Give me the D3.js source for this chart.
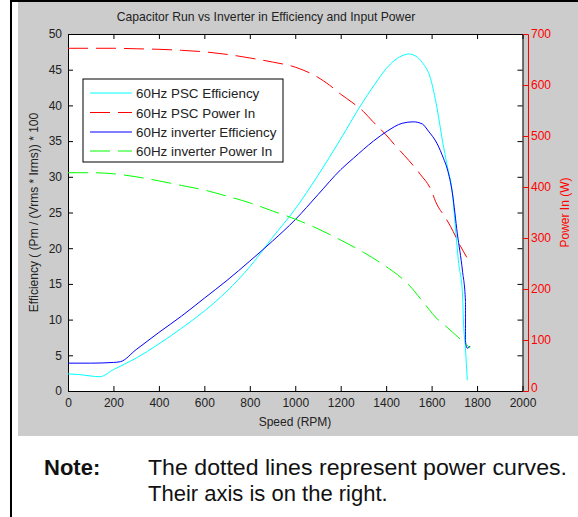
<!DOCTYPE html>
<html><head><meta charset="utf-8">
<script src="https://cdn.jsdelivr.net/npm/d3@7/dist/d3.min.js"></script>
<style>body{margin:0;background:#fff;}svg{display:block;font-family:"Liberation Sans",Arial,sans-serif;}</style>
</head><body>
<script>
// ---- data ----
const title = "Capacitor Run vs Inverter in Efficiency and Input Power";
const xTicks = [0,200,400,600,800,1000,1200,1400,1600,1800,2000];
const yLeftTicks = [0,5,10,15,20,25,30,35,40,45,50];
const yRightTicks = [0,100,200,300,400,500,600,700];
const seriesNames = ["60Hz PSC Efficiency","60Hz PSC Power In","60Hz inverter Efficiency","60Hz inverter Power In"];

const pscEffRpm = [0,50,100,140,200,300,400,500,600,700,800,900,1000,1100,1200,1286,1344,1419,1460,1500,1530,1559,1595,1624,1648,1669,1692,1705,1718,1736,1740,1749,1757];
const pscEffVal = [2.4,2.3,2.1,2.0,3.0,4.6,6.6,8.8,11.2,14.0,17.4,21.5,25.5,30.2,35.3,39.9,42.7,45.8,46.8,47.2,46.9,46.0,43.8,39.6,35.0,31.5,27.6,22.8,18.2,13.6,9.8,6.0,1.5];

const pscPowRpm = [0,100,200,300,400,500,600,700,800,900,1000,1100,1150,1200,1250,1300,1340,1400,1435,1500,1550,1600,1617,1665,1683,1727,1755];
const pscPowVal = [672,672,672,671,670,668,665,660,653,645,635,615,600,582,566,548,529,502,484,452,425,392,372,337,323,284,262];

const invEffRpm = [0,100,200,230,300,400,500,600,700,800,900,1000,1100,1200,1256,1344,1405,1471,1520,1559,1586,1625,1652,1669,1692,1713,1736,1749,1749,1757,1770];
const invEffVal = [3.9,3.9,4.0,4.1,5.8,8.2,10.5,13.0,15.5,18.2,21.0,24.0,27.5,31.0,32.6,35.0,36.4,37.5,37.7,37.4,36.4,34.6,32.6,31.1,27.6,22.1,16.8,12.6,7.0,6.0,6.3];

const invPowRpm = [0,100,200,300,400,500,600,700,800,900,1000,1100,1200,1300,1400,1450,1500,1560,1630,1660,1730,1770];
const invPowVal = [428,428,426,420,412,403,394,382,369,353,337,318,296,272,244,228,208,176,139,128,100,84];

// ---- layout ----
const W = 578, H = 517;
const svg = d3.select("body").append("svg").attr("width", W).attr("height", H);

svg.append("rect").attr("x",11).attr("y",1).attr("width",570).attr("height",520)
  .attr("fill","#fff").attr("stroke","#000").attr("stroke-width",2);
svg.append("rect").attr("x",18).attr("y",2).attr("width",560).attr("height",434).attr("fill","#cccccc");

const L = 68, R = 522.5, T = 34, B = 391, RA = 528;
const x = d3.scaleLinear().domain([0,2000]).range([L,R]);
const yL = d3.scaleLinear().domain([0,50]).range([B,T]);
const yR = d3.scaleLinear().domain([0,700]).range([B,T]);

svg.append("rect").attr("x",L).attr("y",T).attr("width",R-L).attr("height",B-T).attr("fill","#fff");

// axes
const fontSize = 12;
const fmt = d3.format("d");
const axB = svg.append("g").attr("transform",`translate(0,${B})`)
  .call(d3.axisBottom(x).tickValues(xTicks).tickFormat(fmt).tickSizeInner(-5).tickSizeOuter(0).tickPadding(7));
const axT = svg.append("g").attr("transform",`translate(0,${T})`)
  .call(d3.axisTop(x).tickValues(xTicks).tickSizeInner(-5).tickSizeOuter(0).tickFormat(""));
const axL = svg.append("g").attr("transform",`translate(${L},0)`)
  .call(d3.axisLeft(yL).tickValues(yLeftTicks).tickFormat(fmt).tickSizeInner(-5).tickSizeOuter(0).tickPadding(6));
const axR = svg.append("g").attr("transform",`translate(${R},0)`)
  .call(d3.axisRight(yL).tickValues(yLeftTicks).tickSizeInner(-5).tickSizeOuter(0).tickFormat(""));
const axRR = svg.append("g").attr("transform",`translate(${RA},0)`)
  .call(d3.axisRight(yR).tickValues(yRightTicks).tickFormat(fmt).tickSizeInner(-5).tickSizeOuter(-4).tickPadding(3));

[axB,axT,axL,axR].forEach(g=>{
  g.selectAll("path").attr("stroke","#000").attr("stroke-width",1);
  g.selectAll("line").attr("stroke","#000");
  g.selectAll("text").attr("fill","#222").style("font-size",fontSize+"px").style("font-family","Liberation Sans, Arial, sans-serif");
});
axRR.selectAll("path").attr("stroke","#ff0000");
axRR.selectAll("line").attr("stroke","#ff0000");
axRR.selectAll("text").attr("fill","#ff0000").style("font-size",fontSize+"px").style("font-family","Liberation Sans, Arial, sans-serif");
// keep the red "0" clear of the "2000" label just below it
axRR.selectAll(".tick").filter(d=>d===0).select("text").attr("dy","0.05em");

// lines
const clip = svg.append("g");
function drawLine(rpm, vals, yScale, color, dash){
  const pts = rpm.map((r,i)=>[r, vals[i]]);
  const line = d3.line().x(d=>x(d[0])).y(d=>yScale(d[1])).curve(d3.curveMonotoneX);
  clip.append("path").attr("d", line(pts)).attr("fill","none").attr("stroke",color)
    .attr("stroke-width",1).attr("stroke-dasharray", dash || null);
}
drawLine(pscEffRpm, pscEffVal, yL, "#00ffff");
drawLine(pscPowRpm, pscPowVal, yR, "#ff0000", "20,8");
drawLine(invEffRpm, invEffVal, yL, "#0000ff");
drawLine(invPowRpm, invPowVal, yR, "#00ff00", "20,8");

// title and labels
svg.append("text").attr("x",266).attr("y",21).attr("text-anchor","middle")
  .style("font-size","12.2px").attr("fill","#222").text(title);
svg.append("text").attr("x",295).attr("y",426).attr("text-anchor","middle")
  .style("font-size","12px").attr("fill","#222").text("Speed (RPM)");
svg.append("text").attr("transform",`translate(38,${(T+B)/2}) rotate(-90)`).attr("text-anchor","middle")
  .style("font-size","12px").attr("fill","#222").text("Efficiency ( (Pm / (Vrms * Irms)) * 100");
svg.append("text").attr("transform",`translate(569,${(T+B)/2}) rotate(-90)`).attr("text-anchor","middle")
  .style("font-size","12px").attr("fill","#ff0000").text("Power In (W)");

// legend
const lg = svg.append("g");
lg.append("rect").attr("x",83).attr("y",79).attr("width",200).attr("height",83)
  .attr("fill","#fff").attr("stroke","#000").attr("stroke-width",1);
const legColors = ["#00ffff","#ff0000","#0000ff","#00ff00"];
const legDash = [null,"20,8",null,"20,8"];
const legY = [93,112.5,132,151];
seriesNames.forEach((n,i)=>{
  lg.append("line").attr("x1",90).attr("x2",132).attr("y1",legY[i]).attr("y2",legY[i])
    .attr("stroke",legColors[i]).attr("stroke-width",1).attr("stroke-dasharray",legDash[i]);
  lg.append("text").attr("x",136).attr("y",legY[i]+5).style("font-size","13.4px").attr("fill","#222").text(n);
});

// note
svg.append("text").attr("x",44).attr("y",475).style("font-size","22px").style("font-weight","bold").attr("fill","#111").text("Note:");
svg.append("text").attr("x",148).attr("y",475).style("font-size","22px").attr("fill","#111")
  .attr("textLength",419).attr("lengthAdjust","spacingAndGlyphs").text("The dotted lines represent power curves.");
svg.append("text").attr("x",148).attr("y",501).style("font-size","22px").attr("fill","#111").text("Their axis is on the right.");
</script>
</body></html>
